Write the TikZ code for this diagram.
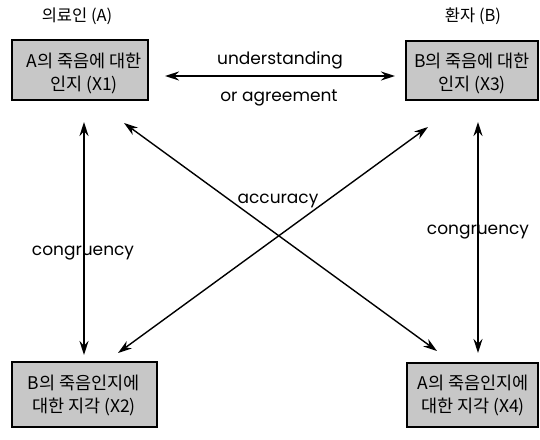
\documentclass[tikz,border=0pt]{standalone}
\usepackage{fontspec}
\setmainfont{Poppins}
\newfontfamily\kr{Noto Sans CJK KR}
\usetikzlibrary{arrows.meta}
\begin{document}
\begin{tikzpicture}[x=1pt,y=-1pt,
  box/.style={draw=black,line width=1.8pt,fill=black!22},
  boxtext/.style={font=\kr\fontsize{17.5}{23}\selectfont,align=center,inner sep=0pt},
  lbl/.style={font=\fontsize{17}{19}\selectfont,inner sep=0pt},
  hdr/.style={font=\kr\fontsize{16.5}{18}\selectfont,inner sep=0pt},
  arr/.style={line width=1.4pt,{Stealth[length=14pt,width=9pt]}-{Stealth[length=14pt,width=9pt]}}]
\useasboundingbox (0,0) rectangle (540,439);
% boxes
\draw[box] (12,40) rectangle (148,100);
\draw[box] (406,41) rectangle (538,100);
\draw[box] (12,362) rectangle (157,427);
\draw[box] (407,363) rectangle (538,427);
\node[boxtext] (x1) at (84,73) {A의 죽음에 대한\\인지 (X1)};
\node[boxtext] (x3) at (472,73) {B의 죽음에 대한\\인지 (X3)};
\node[boxtext] (x2) at (84,395) {B의 죽음인지에\\대한 지각 (X2)};
\node[boxtext] (x4) at (473,395) {A의 죽음인지에\\대한 지각 (X4)};
% headers
\node[hdr] (ha) at (77,16) {의료인 (A)};
\node[hdr] (hb) at (473,16) {환자 (B)};
% arrow ends
\coordinate (h1) at (165,76);
\coordinate (h2) at (395,76);
\coordinate (l1) at (84,122);
\coordinate (l2) at (84,355);
\coordinate (r1) at (478,122);
\coordinate (r2) at (478,353);
\coordinate (d1a) at (124,123);
\coordinate (d1b) at (437,351);
\coordinate (d2a) at (428,127);
\coordinate (d2b) at (118,353);
\draw[arr] (h1) -- (h2);
\draw[arr] (l1) -- (l2);
\draw[arr] (r1) -- (r2);
\draw[arr] (d1a) -- (d1b);
\draw[arr] (d2a) -- (d2b);
% labels
\node[lbl] (u) at (280,60) {understanding};
\node[lbl] (o) at (279,98) {or agreement};
\node[lbl] (acc) at (278,201) {accuracy};
\node[lbl] (cl) at (83,253) {congruency};
\node[lbl] (cr) at (478,232) {congruency};
\end{tikzpicture}
\end{document}
